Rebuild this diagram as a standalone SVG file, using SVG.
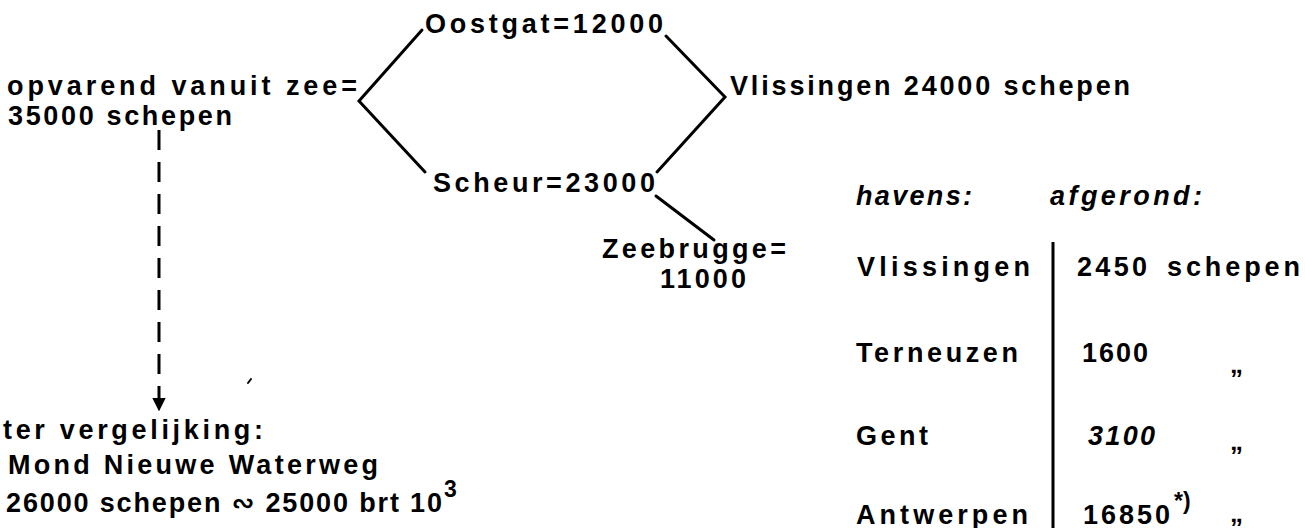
<svg xmlns="http://www.w3.org/2000/svg" width="1305" height="528" viewBox="0 0 1305 528">
  <defs>
    <style>
      text { font-family: "Liberation Sans", Arial, "DejaVu Sans", sans-serif; font-weight: bold; font-size: 27px; fill: #000; }
      .it { font-style: italic; }
      .sup { font-size: 23px; }
      .q { font-size: 26px; }
      .link { stroke: #000; stroke-width: 3; fill: none; stroke-linecap: round; }
      .dash { stroke: #000; stroke-width: 3; fill: none; stroke-dasharray: 20 12; }
      .rule { stroke: #000; stroke-width: 3; fill: none; }
    </style>
    <marker id="arrow" viewBox="0 0 10 10" refX="9" refY="5" markerWidth="4.5" markerHeight="4.5" markerUnits="strokeWidth" orient="auto">
      <path d="M0,0 L10,5 L0,10 Z" fill="#000"/>
    </marker>
  </defs>
  <rect width="1305" height="528" fill="#fff"/>

  <!-- connectors of the traffic split -->
  <g id="connectors">
    <path class="link" d="M422,30 L359,101 L425,172"/>
    <path class="link" d="M666,36 L725,97 L657,172"/>
    <path class="link" d="M656,196 L714,240"/>
    <path class="dash" d="M159,130 L159,410" marker-end="url(#arrow)"/>
  </g>

  <!-- small ink speck -->
  <path d="M248,383 L251,379" stroke="#000" stroke-width="2" stroke-linecap="round"/>

  <g id="node-zee">
    <text x="7" y="95" textLength="350" lengthAdjust="spacing">opvarend vanuit zee=</text>
    <text x="8" y="125" textLength="224" lengthAdjust="spacing">35000 schepen</text>
  </g>

  <g id="node-oostgat">
    <text x="425" y="33" textLength="238" lengthAdjust="spacing">Oostgat=12000</text>
  </g>

  <g id="node-scheur">
    <text x="433" y="192" textLength="222" lengthAdjust="spacing">Scheur=23000</text>
  </g>

  <g id="node-vlissingen">
    <text x="730" y="95" textLength="400" lengthAdjust="spacing">Vlissingen 24000 schepen</text>
  </g>

  <g id="node-zeebrugge">
    <text x="602" y="258" textLength="184" lengthAdjust="spacing">Zeebrugge=</text>
    <text x="660" y="288" textLength="86" lengthAdjust="spacing">11000</text>
  </g>

  <g id="node-vergelijking">
    <text x="3" y="439" textLength="260" lengthAdjust="spacing">ter vergelijking:</text>
    <text x="8" y="474" textLength="370" lengthAdjust="spacing">Mond Nieuwe Waterweg</text>
    <text x="6" y="512" textLength="436" lengthAdjust="spacing">26000 schepen ∾ 25000 brt 10</text>
    <text class="sup" x="444" y="497" font-size="25">3</text>
  </g>

  <!-- port table -->
  <g id="table-havens">
    <text class="it" x="856" y="205" textLength="116" lengthAdjust="spacing">havens:</text>
    <text class="it" x="1050" y="205" textLength="152" lengthAdjust="spacing">afgerond:</text>
    <line class="rule" x1="1053" y1="242" x2="1053" y2="528"/>

    <text x="857" y="276" textLength="173" lengthAdjust="spacing">Vlissingen</text>
    <text x="1077" y="276" textLength="70" lengthAdjust="spacing">2450</text>
    <text x="1167" y="276" textLength="133" lengthAdjust="spacing">schepen</text>

    <text x="856" y="362" textLength="162" lengthAdjust="spacing">Terneuzen</text>
    <text x="1082" y="362" textLength="66" lengthAdjust="spacing">1600</text>
    <text class="q" x="1230" y="373">„</text>

    <text x="856" y="445" textLength="72" lengthAdjust="spacing">Gent</text>
    <text class="it" x="1088" y="445" textLength="67" lengthAdjust="spacing">3100</text>
    <text class="q" x="1230" y="450">„</text>

    <text x="856" y="524" textLength="172" lengthAdjust="spacing">Antwerpen</text>
    <text x="1083" y="524" textLength="87" lengthAdjust="spacing">16850</text>
    <text class="sup" x="1174" y="509">*)</text>
    <text class="q" x="1230" y="522">„</text>
  </g>
</svg>
